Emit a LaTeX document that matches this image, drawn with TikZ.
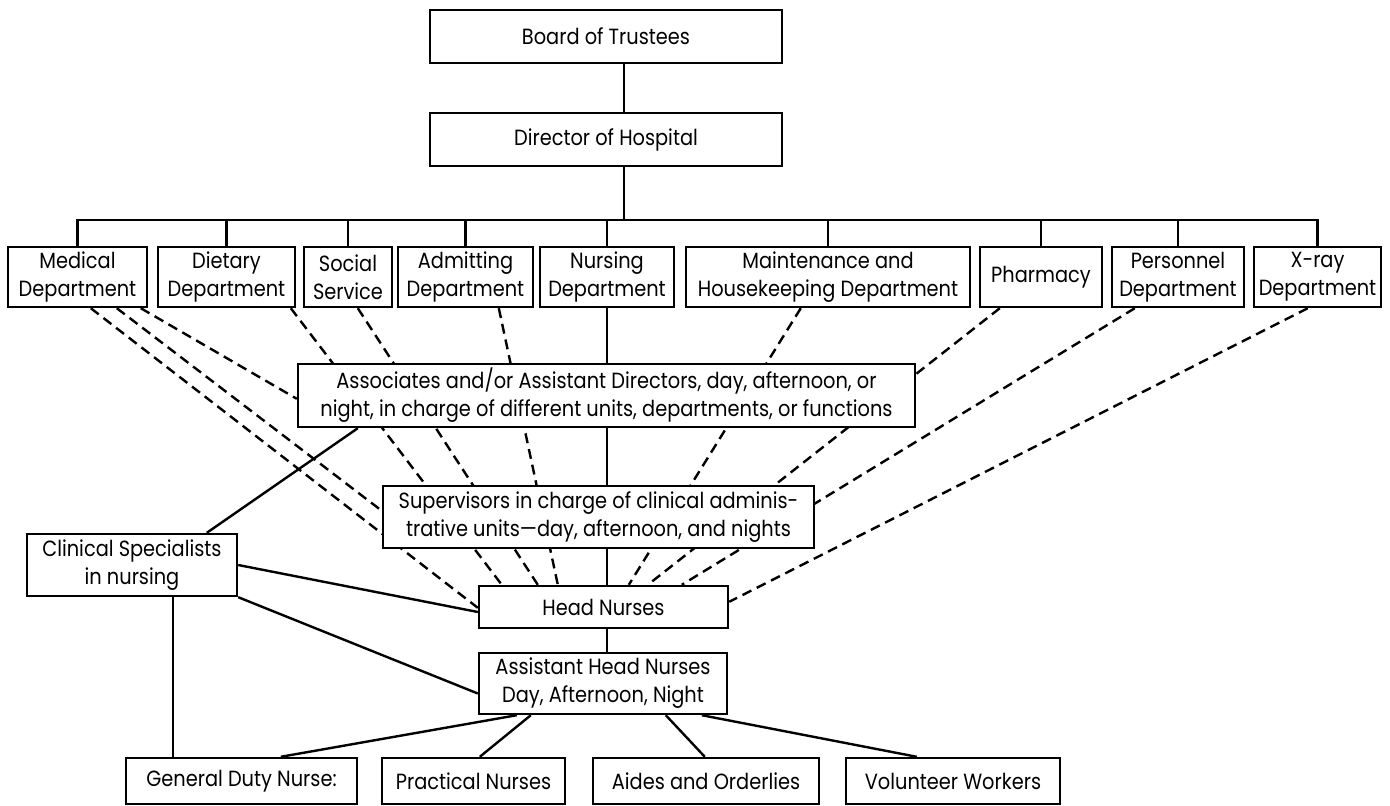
\documentclass[tikz,border=0pt]{standalone}
\usepackage{fontspec}
\setmainfont{Poppins}[FakeStretch=0.88]
\usetikzlibrary{calc,backgrounds}
\begin{document}
\begin{tikzpicture}[x=0.5pt,y=-0.5pt,line width=1.2pt,
  box/.style 2 args={draw,line width=1.2pt,fill=white,inner sep=0pt,align=center,
    minimum width=#1*0.5pt,minimum height=#2*0.5pt,
    font=\fontsize{11}{14}\selectfont},
  solidln/.style={line width=1.2pt},
  dashln/.style={line width=1.2pt,dash pattern=on 5pt off 3pt}]
\useasboundingbox (0,0) rectangle (1390,806);
% top
\node[box={352}{53}] (board) at (606,36.5) {Board of Trustees};
\node[box={352}{53}] (dir) at (606,139.5) {Director of Hospital};
% departments
\node[box={139}{60}] (med) at (77.5,277) {Medical\\Department};
\node[box={137}{60}] (diet) at (226.5,277) {Dietary\\Department};
\node[box={88}{60}] (soc) at (348,277) {Social\\Service};
\node[box={135}{60}] (adm) at (465.5,277) {Admitting\\Department};
\node[box={134}{60}] (nurs) at (607,277) {Nursing\\Department};
\node[box={284}{60}] (maint) at (828,277) {Maintenance and\\Housekeeping Department};
\node[box={122}{60}] (pharm) at (1041,277) {Pharmacy};
\node[box={132}{60}] (pers) at (1178,277) {Personnel\\Department};
\node[box={127}{60}] (xray) at (1317.5,277) {X-ray\\Department};
% middle
\node[box={617}{63}] (assoc) at (606.5,395.5) {Associates and/or Assistant Directors, day, afternoon, or\\night, in charge of different units, departments, or functions};
\node[box={431}{62}] (sup) at (598.5,517) {Supervisors in charge of clinical adminis-\\trative units---day, afternoon, and nights};
\node[box={210}{62}] (clin) at (132,565) {Clinical Specialists\\in nursing};
\node[box={249}{42}] (hn) at (603.5,607) {Head Nurses};
\node[box={248}{61}] (ahn) at (603,683.5) {Assistant Head Nurses\\Day, Afternoon, Night};
% bottom
\node[box={231}{46}] (gdn) at (241.5,781) {General Duty Nurse:};
\node[box={183}{46}] (prac) at (473.5,781) {Practical Nurses};
\node[box={226}{46}] (aides) at (706,781) {Aides and Orderlies};
\node[box={214}{46}] (vol) at (953,781) {Volunteer Workers};
% bus
\coordinate (bus) at (624,220);
\draw[solidln] (board.south -| bus) -- (dir.north -| bus);
\draw[solidln] (dir.south -| bus) -- (bus);
\draw[solidln] (med.north) |- (bus) -| (xray.north);
\foreach \n in {diet,soc,adm,nurs,maint,pharm,pers}
  \draw[solidln] (\n.north) -- (\n.north |- bus);
% nursing spine
\draw[solidln] (nurs.south) -- (nurs.south |- assoc.north);
\draw[solidln] (assoc.south -| nurs) -- (sup.north -| nurs);
\draw[solidln] (sup.south -| nurs) -- (hn.north -| nurs);
\draw[solidln] (hn.south -| nurs) -- (ahn.north -| nurs);
% clinical specialists
\draw[solidln] ($(assoc.south west)+(61,0)$) -- ($(clin.north west)+(181,0)$);
\draw[solidln] (clin.east) -- ($(hn.west)+(0,5)$);
\draw[solidln] (clin.south east) -- ($(ahn.west)+(0,10)$);
\draw[solidln] ($(clin.south west)+(147,0)$) -- ($(gdn.north west)+(48,0)$);
% assistant head nurses to staff
\draw[solidln] ($(ahn.south west)+(39,0)$) -- ($(gdn.north west)+(156,0)$);
\draw[solidln] ($(ahn.south west)+(53,0)$) -- ($(prac.north west)+(99,0)$);
\draw[solidln] ($(ahn.south west)+(188,0)$) -- ($(aides.north west)+(113,0)$);
\draw[solidln] ($(ahn.south west)+(224,0)$) -- ($(vol.north west)+(72,0)$);
% dashed lines behind boxes
\begin{pgfonlayer}{background}
\draw[dashln] ($(med.south west)+(84,0)$) -- ($(hn.north west)+(0,23)$);
\draw[dashln] ($(med.south west)+(110,0)$) -- ($(sup.north west)+(0,26)$);
\draw[dashln] ($(med.south west)+(134,0)$) -- ($(assoc.north west)+(0,36)$);
\draw[dashln] ($(diet.south west)+(134,0)$) -- ($(hn.north west)+(24,0)$);
\draw[dashln] ($(soc.south west)+(55,0)$) -- ($(hn.north west)+(60,0)$);
\draw[dashln] ($(adm.south west)+(102,0)$) -- ($(hn.north west)+(80,0)$);
\draw[dashln] ($(maint.south west)+(116,0)$) -- ($(hn.north west)+(151,0)$);
\draw[dashln] ($(pharm.south west)+(21,0)$) -- ($(hn.north west)+(170,0)$);
\draw[dashln] ($(pers.south west)+(24,0)$) -- ($(hn.north west)+(204,0)$);
\draw[dashln] ($(xray.south west)+(55,0)$) -- ($(hn.north east)+(0,17)$);
\end{pgfonlayer}
\end{tikzpicture}
\end{document}
